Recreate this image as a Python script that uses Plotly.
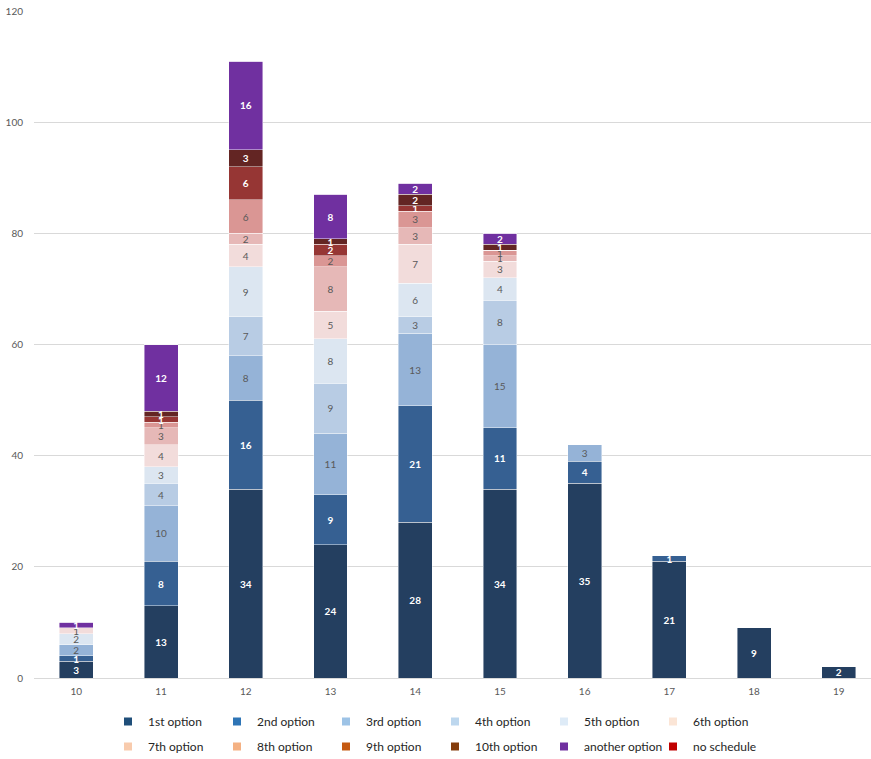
import plotly.graph_objects as go

# Categories along the x axis
categories = ["10", "11", "12", "13", "14", "15", "16", "17", "18", "19"]

# Stacked counts per option, one value per category
opt1 = [3, 13, 34, 24, 28, 34, 35, 21, 9, 2]
opt2 = [1, 8, 16, 9, 21, 11, 4, 1, 0, 0]
opt3 = [2, 10, 8, 11, 13, 15, 3, 0, 0, 0]
opt4 = [0, 4, 7, 9, 3, 8, 0, 0, 0, 0]
opt5 = [2, 3, 9, 8, 6, 4, 0, 0, 0, 0]
opt6 = [1, 4, 4, 5, 7, 3, 0, 0, 0, 0]
opt7 = [0, 3, 2, 8, 3, 1, 0, 0, 0, 0]
opt8 = [0, 1, 6, 2, 3, 1, 0, 0, 0, 0]
opt9 = [0, 1, 6, 2, 1, 0, 0, 0, 0, 0]
opt10 = [0, 1, 3, 1, 2, 1, 0, 0, 0, 0]
another = [1, 12, 16, 8, 2, 2, 0, 0, 0, 0]
no_schedule = [0, 0, 0, 0, 0, 0, 0, 0, 0, 0]

series_names = ["1st option", "2nd option", "3rd option", "4th option",
                "5th option", "6th option", "7th option", "8th option",
                "9th option", "10th option", "another option", "no schedule"]
series_values = [opt1, opt2, opt3, opt4, opt5, opt6, opt7, opt8, opt9,
                 opt10, another, no_schedule]

bar_colors = ["#243F60", "#366092", "#95B3D7", "#B8CCE4", "#DCE6F1",
              "#F2DCDB", "#E6B8B7", "#DA9694", "#963634", "#632523",
              "#7030A0", "#C00000"]
legend_colors = ["#1F4E79", "#2E75B6", "#9DC3E6", "#BDD7EE", "#DEEBF7",
                 "#FBE5D6", "#F8CBAD", "#F4B183", "#C55A11", "#843C0C",
                 "#7030A0", "#C00000"]
dark_series = {0, 1, 8, 9, 10, 11}

FONT = "Lato, 'Open Sans', sans-serif"

fig = go.Figure()

for i, (name, vals) in enumerate(zip(series_names, series_values)):
    dark = i in dark_series
    fig.add_trace(go.Bar(
        x=categories,
        y=vals,
        name=name,
        showlegend=False,
        marker=dict(color=bar_colors[i],
                    line=dict(color="rgba(255,255,255,0.55)", width=0.8)),
        text=[str(v) if v else "" for v in vals],
        textposition="inside",
        insidetextanchor="middle",
        textangle=0,
        textfont=dict(family=FONT, size=10,
                      color="#FFFFFF" if dark else "#595959",
                      weight="bold" if dark else "normal"),
        hoverinfo="skip",
    ))

# Legend entries in two rows of six
for i, name in enumerate(series_names):
    fig.add_trace(go.Scatter(
        x=[None], y=[None],
        mode="markers",
        name=name,
        marker=dict(symbol="square", size=8, color=legend_colors[i]),
        legend="legend" if i < 6 else "legend2",
        hoverinfo="skip",
    ))

legend_common = dict(
    orientation="h",
    traceorder="normal",
    xref="container", yref="container",
    xanchor="left", yanchor="top",
    font=dict(family=FONT, size=12, color="#262626"),
    entrywidth=64, entrywidthmode="pixels",
    bgcolor="rgba(0,0,0,0)",
    itemclick=False, itemdoubleclick=False,
)

fig.update_layout(
    width=871, height=759,
    margin=dict(l=34, r=0, t=11, b=81),
    barmode="stack",
    bargap=0.6,
    plot_bgcolor="white",
    paper_bgcolor="white",
    font=dict(family=FONT, size=10, color="#595959"),
    uniformtext=dict(minsize=10, mode="show"),
    xaxis=dict(
        type="category",
        range=[-0.5, 9.38],
        showgrid=False,
        showline=True, linecolor="#D9D9D9", linewidth=1,
        ticks="",
        ticklabelstandoff=4,
        tickfont=dict(family=FONT, size=10, color="#595959"),
        fixedrange=True,
    ),
    yaxis=dict(
        range=[0, 120],
        dtick=20,
        showgrid=True, gridcolor="#D9D9D9", gridwidth=1,
        zeroline=False,
        showline=False,
        ticks="",
        ticklabelstandoff=10,
        tickfont=dict(family=FONT, size=10, color="#595959"),
        fixedrange=True,
    ),
    legend=dict(x=108 / 871, y=1 - 707 / 759, **legend_common),
    legend2=dict(x=108 / 871, y=1 - 732 / 759, **legend_common),
)

fig.write_html("out.html")
